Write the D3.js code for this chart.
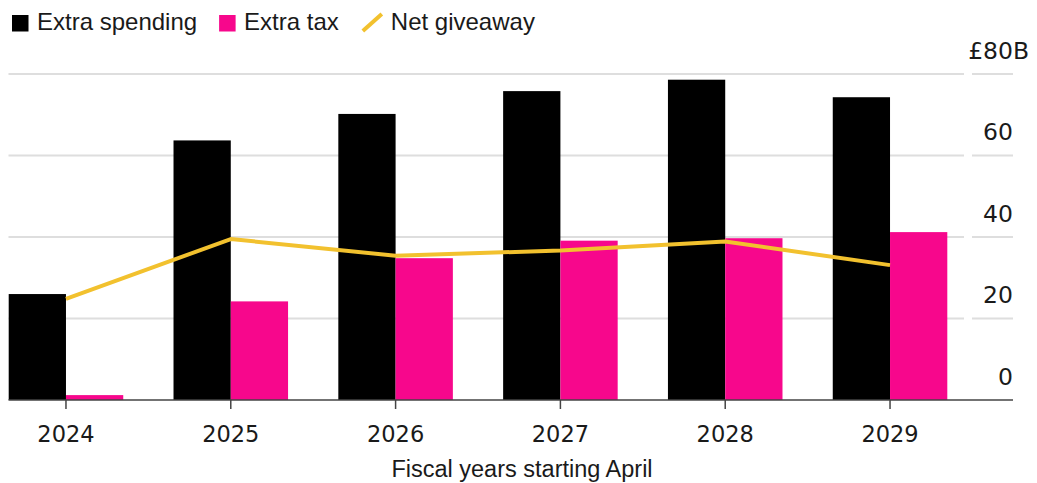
<!DOCTYPE html>
<html>
<head>
<meta charset="utf-8">
<script src="https://cdn.jsdelivr.net/npm/d3@7"></script>
<style>
  html, body { margin: 0; padding: 0; background: #fff; }
  svg { display: block; }
  text { font-family: "Liberation Sans", Arial, Helvetica, sans-serif; fill: #1a1a1a; }
  .num { font-family: "DejaVu Sans", "Liberation Sans", sans-serif; }
</style>
</head>
<body>
<svg id="chart" width="1037" height="483"></svg>
<script>
// Fiscal years (starting April)
const years = ["2024", "2025", "2026", "2027", "2028", "2029"];
// £ billions
const extraSpending = [26.0, 63.7, 70.2, 75.8, 78.6, 74.3];
const extraTax      = [1.2, 24.2, 34.8, 39.1, 39.7, 41.2];
const netGiveaway   = [24.8, 39.5, 35.4, 36.7, 38.9, 33.1];
const yTicks = [0, 20, 40, 60, 80];
const legendItems = ["Extra spending", "Extra tax", "Net giveaway"];

const COLORS = { spending: "#000000", tax: "#f7078c", net: "#f2c12e" };

const svg = d3.select("#chart");

const x = d3.scaleBand().domain(years).range([8.7, 947.3]).paddingInner(0.305).paddingOuter(0);
const y = d3.scaleLinear().domain([0, 80]).range([400, 74]);
const half = x.bandwidth() / 2;
const cx = d => x(d) + half;

const gridLeft = 8.5, gridRight = 964, ruleLeft = 972, ruleRight = 1013;

// Horizontal gridlines with a short rule under each value label
const grid = svg.append("g");
yTicks.filter(t => t > 0).forEach(t => {
  grid.append("line").attr("x1", gridLeft).attr("x2", gridRight)
    .attr("y1", y(t)).attr("y2", y(t)).attr("stroke", "#dedede").attr("stroke-width", 2);
  grid.append("line").attr("x1", ruleLeft).attr("x2", ruleRight)
    .attr("y1", y(t)).attr("y2", y(t)).attr("stroke", "#dedede").attr("stroke-width", 2);
});

// Bars
const rows = years.map((yr, i) => ({ yr, s: extraSpending[i], t: extraTax[i], n: netGiveaway[i] }));
svg.append("g").selectAll("rect").data(rows).join("rect")
  .attr("x", d => x(d.yr)).attr("width", half)
  .attr("y", d => y(d.s)).attr("height", d => y(0) - y(d.s))
  .attr("fill", COLORS.spending);
svg.append("g").selectAll("rect").data(rows).join("rect")
  .attr("x", d => cx(d.yr)).attr("width", half)
  .attr("y", d => y(d.t)).attr("height", d => y(0) - y(d.t))
  .attr("fill", COLORS.tax);

// Baseline axis with ticks at each year
const xAxis = d3.axisBottom(x).tickSize(9).tickPadding(22).tickSizeOuter(0);
const gx = svg.append("g").attr("transform", `translate(0,${y(0)})`).call(xAxis);
gx.select(".domain").remove();
gx.selectAll(".tick line").attr("stroke", "#444").attr("stroke-width", 1.5);
gx.selectAll(".tick text").attr("class", "num").attr("font-size", 22.5)
  .attr("font-family", null).attr("fill", "#1a1a1a").attr("dy", "0.5em");
svg.append("line").attr("x1", gridLeft).attr("x2", ruleRight)
  .attr("y1", y(0)).attr("y2", y(0)).attr("stroke", "#444").attr("stroke-width", 1.5);

// Net giveaway line
const line = d3.line().x(d => cx(d.yr)).y(d => y(d.n));
svg.append("path").datum(rows).attr("d", line)
  .attr("fill", "none").attr("stroke", COLORS.net).attr("stroke-width", 4)
  .attr("stroke-linejoin", "round");

// Value labels on the right
const yl = svg.append("g").attr("class", "num").attr("font-size", 23.5);
yTicks.forEach(t => {
  const label = t === 80 ? "£" + t : String(t);
  yl.append("text").attr("class", "num").attr("x", ruleRight).attr("y", y(t) - 15.5)
    .attr("text-anchor", "end").text(label);
  if (t === 80) {
    yl.append("text").attr("class", "num").attr("x", ruleRight).attr("y", y(t) - 15.5)
      .attr("text-anchor", "start").text("B");
  }
});

// Axis title
svg.append("text").attr("x", 522).attr("y", 477).attr("text-anchor", "middle")
  .attr("font-size", 23.5).text("Fiscal years starting April");

// Legend
const lg = svg.append("g").attr("font-size", 24);
let lx = 12;
legendItems.forEach((name, i) => {
  if (i < 2) {
    lg.append("rect").attr("x", lx).attr("y", 15).attr("width", 16.5).attr("height", 16.5)
      .attr("fill", i === 0 ? COLORS.spending : COLORS.tax);
    lx += 25;
  } else {
    lg.append("line").attr("x1", lx + 2).attr("y1", 31).attr("x2", lx + 21).attr("y2", 14)
      .attr("stroke", COLORS.net).attr("stroke-width", 4);
    lx += 30;
  }
  const t = lg.append("text").attr("x", lx).attr("y", 30).text(name);
  lx += t.node().getComputedTextLength() + 22;
});
</script>
</body>
</html>
